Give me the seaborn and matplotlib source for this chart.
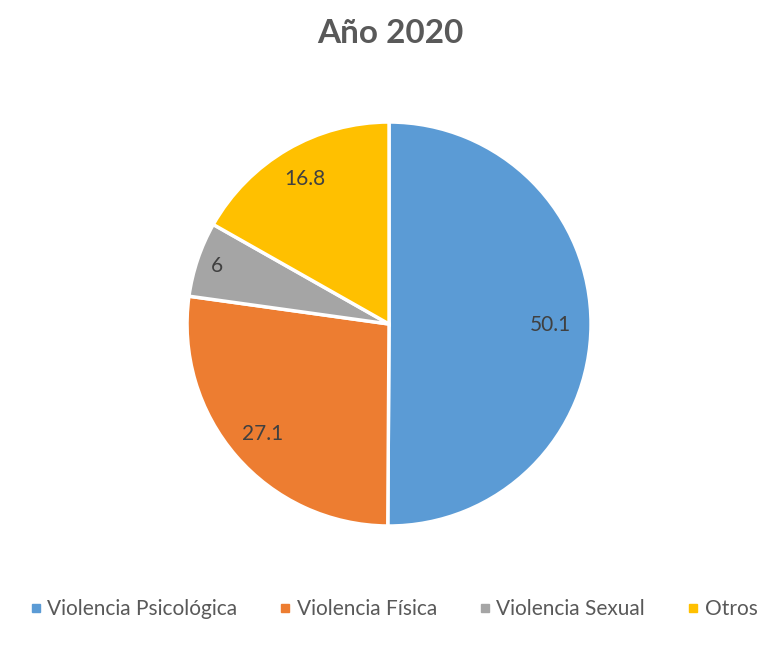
import matplotlib
matplotlib.use("Agg")
import matplotlib.pyplot as plt
from matplotlib.lines import Line2D
import seaborn as sns

categories = ["Violencia Psicológica", "Violencia Física", "Violencia Sexual", "Otros"]
values = [50.1, 27.1, 6, 16.8]
value_labels = ["50.1", "27.1", "6", "16.8"]
colors = ["#5B9BD5", "#ED7D31", "#A5A5A5", "#FFC000"]

sns.set_style("white")
plt.rcParams['font.family'] = ['Lato', 'DejaVu Sans']

fig = plt.figure(figsize=(7.64, 6.47), dpi=100)
ax = fig.add_axes([0.2448, 0.187, 0.5288, 0.6244])

wedges, texts = ax.pie(values, colors=colors, startangle=90, counterclock=False,
                       labels=value_labels, labeldistance=1.0,
                       wedgeprops=dict(edgecolor="white", linewidth=2.5),
                       textprops=dict(color="#404040", fontsize=15))
# label distances from centre, as placed in the original
for t, d in zip(texts, [0.80, 0.83, 0.90, 0.83]):
    x, y = t.get_position()
    t.set_position((x * d, y * d))
    t.set_ha("center")
    t.set_va("center")
ax.set_xlim(-1, 1)
ax.set_ylim(-1, 1)
ax.set_aspect("equal")
ax.axis("off")

fig.text(0.511, 0.948, "Año 2020", ha="center", va="center",
         fontsize=24, fontweight="bold", color="#595959")

handles = [Line2D([0], [0], marker="s", linestyle="", markersize=6,
                  markerfacecolor=c, markeredgecolor=c) for c in colors]
fig.legend(handles, categories, loc="center", bbox_to_anchor=(0.515, 0.058),
           ncol=4, frameon=False, fontsize=15, labelcolor="#595959",
           handlelength=0.6, handletextpad=0.25, columnspacing=2.0)

fig.savefig("out.png", dpi=100, facecolor="white")
